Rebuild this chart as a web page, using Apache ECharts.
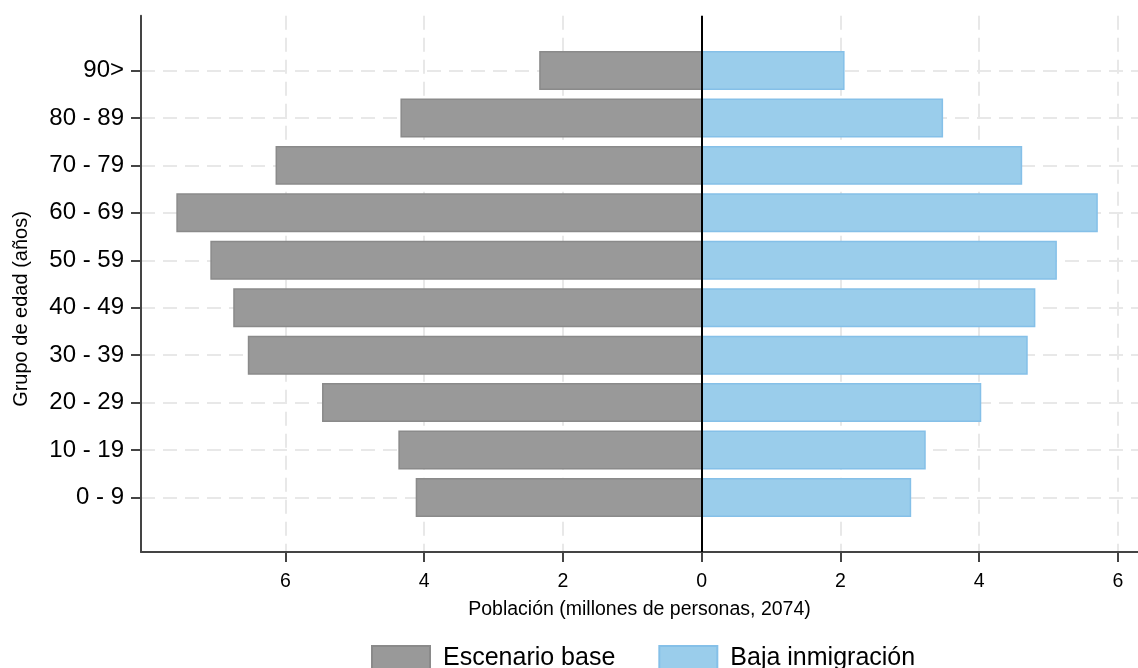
<!DOCTYPE html>
<html>
<head>
<meta charset="utf-8">
<script src="https://cdn.jsdelivr.net/npm/echarts@6/dist/echarts.min.js"></script>
<style>
html,body{margin:0;padding:0;background:#fff;}
#chart{width:1138px;height:668px;}
</style>
</head>
<body>
<div id="chart"></div>
<script>
// Age groups (bottom to top)
const categories = ['0 - 9','10 - 19','20 - 29','30 - 39','40 - 49','50 - 59','60 - 69','70 - 79','80 - 89','90>'];
// Millions of people, 2074
const escenarioBase = [4.11, 4.36, 5.46, 6.53, 6.74, 7.07, 7.56, 6.13, 4.33, 2.33];
const bajaInmigracion = [3.01, 3.22, 4.02, 4.69, 4.80, 5.11, 5.70, 4.61, 3.47, 2.05];
const xTickValues = [-6, -4, -2, 0, 2, 4, 6];
const seriesNames = ['Escenario base', 'Baja inmigración'];

const FONT = '"Liberation Sans", Arial, sans-serif';
const BAR_SIZE = 0.79;

function renderBar(params, api) {
  const v = api.value(0);
  const y = api.value(1);
  const p0 = api.coord([0, y]);
  const p1 = api.coord([v, y]);
  const h = api.size([0, BAR_SIZE])[1];
  return {
    type: 'rect',
    shape: { x: Math.min(p0[0], p1[0]), y: p0[1] - h / 2, width: Math.abs(p1[0] - p0[0]), height: h },
    style: api.style()
  };
}

const baseData = escenarioBase.map((v, i) => [-v, i]);
const bajaData = bajaInmigracion.map((v, i) => [v, i]);
const catIdx = categories.map((c, i) => i);

const chart = echarts.init(document.getElementById('chart'), null, { renderer: 'canvas' });
chart.setOption({
  animation: false,
  backgroundColor: '#ffffff',
  textStyle: { fontFamily: FONT },
  grid: { left: 141, right: 0, top: 15.7, bottom: 116, containLabel: false },
  xAxis: {
    type: 'value',
    min: -8.08,
    max: 6.29,
    name: 'Población (millones de personas, 2074)',
    nameLocation: 'middle',
    nameGap: 48,
    nameTextStyle: { fontSize: 19.5, color: '#000', fontFamily: FONT },
    axisLine: { show: true, onZero: false, lineStyle: { color: '#444', width: 2 } },
    axisTick: { show: true, length: 10, customValues: xTickValues, lineStyle: { color: '#444', width: 2 } },
    axisLabel: { show: true, customValues: xTickValues, fontSize: 19.5, color: '#000', margin: 19.5, fontFamily: FONT,
      formatter: v => String(Math.abs(v)) },
    splitLine: { show: true, lineStyle: { color: '#e8e8e8', width: 2, type: [14, 8] } }
  },
  yAxis: {
    type: 'value',
    min: -1.149,
    max: 10.155,
    axisLine: { show: true, onZero: false, lineStyle: { color: '#444', width: 2 } },
    axisTick: { show: true, length: 10, customValues: catIdx, lineStyle: { color: '#444', width: 2 } },
    axisLabel: { customValues: catIdx, fontSize: 24, color: '#000', margin: 17, fontFamily: FONT,
      padding: [3, 0, 0, 0],
      formatter: v => categories[Math.round(v)] },
    splitLine: { show: true, lineStyle: { color: '#e8e8e8', width: 2, type: [14, 8] } }
  },
  legend: {
    left: 371,
    top: 645,
    padding: 0,
    itemWidth: 58,
    itemHeight: 24,
    itemGap: 43,
    icon: 'rect',
    textStyle: { fontSize: 25, color: '#000', fontFamily: FONT, padding: [0, 0, 0, 8] },
    data: seriesNames
  },
  graphic: [{
    type: 'text',
    x: 21,
    y: 309,
    rotation: Math.PI / 2,
    style: {
      text: 'Grupo de edad (años)',
      fontSize: 20,
      fontFamily: FONT,
      fill: '#000',
      align: 'center',
      verticalAlign: 'middle'
    }
  }],
  series: [
    {
      name: seriesNames[0],
      type: 'custom',
      renderItem: renderBar,
      encode: { x: 0, y: 1 },
      itemStyle: { color: '#999999', borderColor: '#8a8a8a', borderWidth: 1.5 },
      data: baseData,
      z: 2
    },
    {
      name: seriesNames[1],
      type: 'custom',
      renderItem: renderBar,
      encode: { x: 0, y: 1 },
      itemStyle: { color: '#9ACDEB', borderColor: '#85C0E8', borderWidth: 1.5 },
      data: bajaData,
      z: 2,
      markLine: {
        silent: true,
        symbol: 'none',
        label: { show: false },
        lineStyle: { color: '#000', width: 2, type: 'solid' },
        data: [{ xAxis: 0 }],
        z: 5
      }
    }
  ]
});
</script>
</body>
</html>
